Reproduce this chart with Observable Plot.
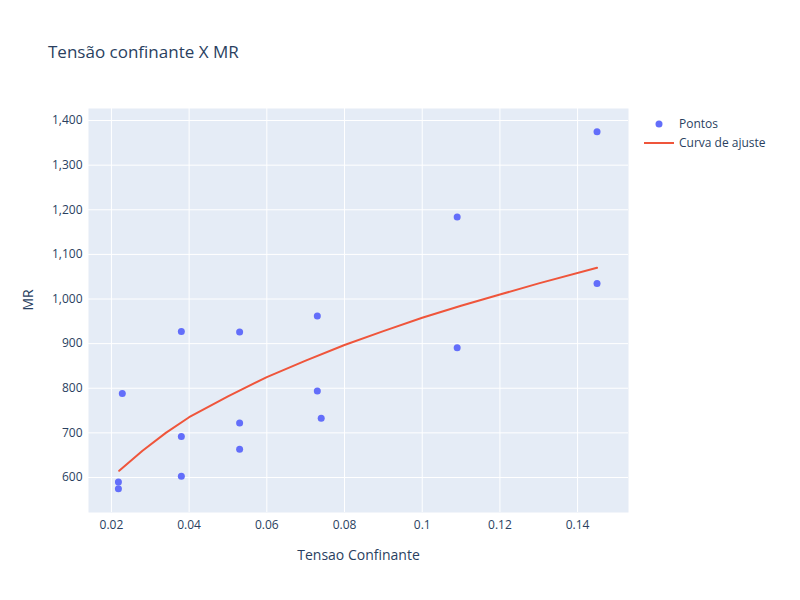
<!DOCTYPE html>
<html><head><meta charset="utf-8">
<script src="https://cdn.jsdelivr.net/npm/d3@7"></script>
<script src="https://cdn.jsdelivr.net/npm/@observablehq/plot@0.6"></script>
<style>
body{margin:0;font-family:"Open Sans",sans-serif;color:#2a3f5f}
#wrap{position:relative;width:800px;height:600px;background:#fff}
#title{position:absolute;left:48px;top:40px;font-size:17px}
#legend{position:absolute;left:644px;top:114px;font-size:12px}
#legend div{display:flex;align-items:center;height:19px}
</style></head><body>
<div id="wrap">
<div id="title">Tensão confinante X MR</div>
<div id="legend">
<div><svg width="30" height="12"><circle cx="15" cy="6" r="3.5" fill="#636efa"/></svg><span style="margin-left:5px">Pontos</span></div>
<div><svg width="30" height="12"><line x1="0" x2="30" y1="6" y2="6" stroke="#ef553b" stroke-width="2"/></svg><span style="margin-left:5px">Curva de ajuste</span></div>
</div>
<div id="chart"></div>
</div>
<script>
const pontosX = [0.0218,0.0218,0.0228,0.038,0.038,0.038,0.053,0.053,0.053,0.073,0.073,0.074,0.109,0.109,0.145,0.145];
const pontosY = [575,590,788,927,692,603,926,722,663,962,794,733,1184,891,1375,1035];
const curvaX = [0.022,0.028,0.034,0.04,0.05,0.06,0.07,0.08,0.09,0.1,0.11,0.12,0.13,0.145];
const curvaY = [615,660,700,735,782,825,862,897,928,958,985,1010,1035,1070];

const pontos = pontosX.map((x,i)=>({x,y:pontosY[i]}));
const curva = curvaX.map((x,i)=>({x,y:curvaY[i]}));

const chart = Plot.plot({
  width: 800, height: 600,
  marginLeft: 88, marginRight: 172, marginTop: 108, marginBottom: 88,
  style: {fontFamily: '"Open Sans",sans-serif', fontSize: "12px", color: "#2a3f5f", background: "transparent"},
  x: {domain: [0.0141, 0.1531], ticks: [0.02,0.04,0.06,0.08,0.1,0.12,0.14], tickFormat: d => String(+d.toFixed(2)), tickSize: 0, tickPadding: 8, label: null},
  y: {domain: [521.5, 1427], ticks: d3.range(600,1401,100), tickSize: 0, tickPadding: 6, label: null},
  marks: [
    Plot.frame({fill: "#e5ecf6", stroke: null}),
    Plot.gridX({stroke: "#fff", strokeOpacity: 1, strokeWidth: 1}),
    Plot.gridY({stroke: "#fff", strokeOpacity: 1, strokeWidth: 1}),
    Plot.axisX({tickSize: 0, tickPadding: 8, ticks: [0.02,0.04,0.06,0.08,0.1,0.12,0.14], tickFormat: d => String(+d.toFixed(2)), label: null}),
    Plot.axisY({tickSize: 0, tickPadding: 6, ticks: d3.range(600,1401,100), label: null}),
    Plot.line(curva, {x: "x", y: "y", stroke: "#ef553b", strokeWidth: 2}),
    Plot.dot(pontos, {x: "x", y: "y", r: 3.5, fill: "#636efa"}),
    Plot.text(["Tensao Confinante"], {frameAnchor: "bottom", dy: 47, fontSize: 14, fill: "#2a3f5f"}),
    Plot.text(["MR"], {frameAnchor: "left", dx: -60, rotate: -90, fontSize: 14, fill: "#2a3f5f"})
  ]
});
d3.select('#chart').append(() => chart);
</script>
</body></html>
